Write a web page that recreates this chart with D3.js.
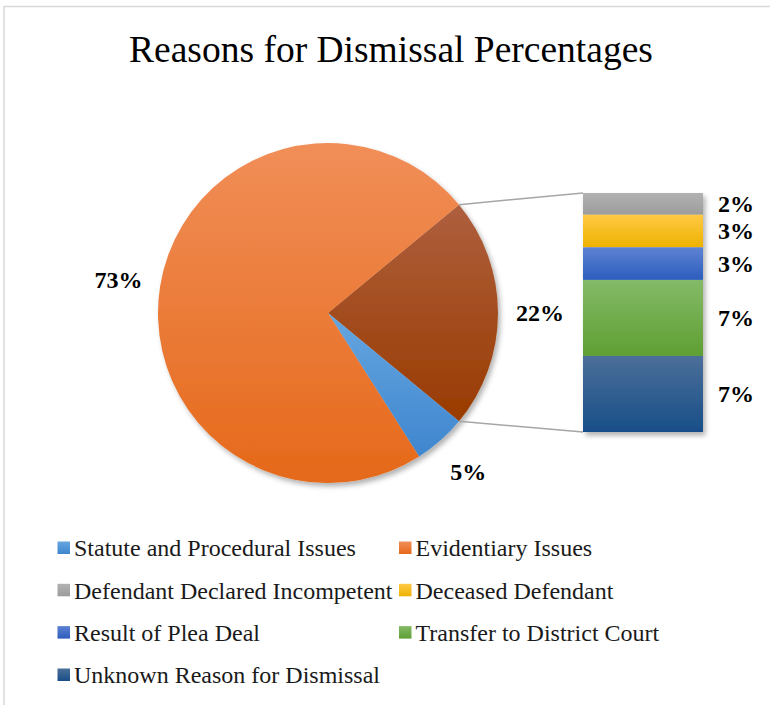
<!DOCTYPE html>
<html>
<head>
<meta charset="utf-8">
<script src="https://cdn.jsdelivr.net/npm/d3@7"></script>
<style>
  html, body { margin: 0; padding: 0; background: #ffffff; }
  svg { display: block; font-family: "Liberation Serif", "Times New Roman", serif; }
</style>
</head>
<body>
<svg id="chart" width="770" height="705"></svg>
<script>
// Pie slices (percent), the "other" slice is broken out into the bar
const pieNames  = ["Other", "Statute and Procedural Issues", "Evidentiary Issues"];
const pieValues = [22, 5, 73];

// Breakdown of the "other" slice, top to bottom of the bar
const barNames  = ["Defendant Declared Incompetent", "Deceased Defendant", "Result of Plea Deal",
                   "Transfer to District Court", "Unknown Reason for Dismissal"];
const barValues = [2, 3, 3, 7, 7];

// Legend order
const legendNames = ["Statute and Procedural Issues", "Evidentiary Issues",
                     "Defendant Declared Incompetent", "Deceased Defendant",
                     "Result of Plea Deal", "Transfer to District Court",
                     "Unknown Reason for Dismissal"];

// Fill gradients: [top colour, bottom colour]
const fills = {
  "Other":                          ["#ae5f3e", "#993b00"],
  "Statute and Procedural Issues":  ["#66a6df", "#3f86cf"],
  "Evidentiary Issues":             ["#f18e58", "#e5691a"],
  "Defendant Declared Incompetent": ["#b2b2b2", "#9c9c9c"],
  "Deceased Defendant":             ["#ffc945", "#eeb200"],
  "Result of Plea Deal":            ["#5d82d3", "#2c5dbd"],
  "Transfer to District Court":     ["#84ba68", "#5f9f33"],
  "Unknown Reason for Dismissal":   ["#4b6f99", "#184e88"]
};

const svg = d3.select("#chart");
const defs = svg.append("defs");
const gid = name => "g-" + name.replace(/[^A-Za-z]/g, "");

Object.entries(fills).forEach(([name, [c0, c1]]) => {
  const g = defs.append("linearGradient").attr("id", gid(name))
    .attr("x1", 0).attr("y1", 0).attr("x2", 0).attr("y2", 1);
  g.append("stop").attr("offset", "0%").attr("stop-color", c0);
  g.append("stop").attr("offset", "100%").attr("stop-color", c1);
});

const shadow = defs.append("filter").attr("id", "shadow")
  .attr("x", "-10%").attr("y", "-10%").attr("width", "125%").attr("height", "125%");
shadow.append("feDropShadow").attr("dx", 2.5).attr("dy", 3.5)
  .attr("stdDeviation", 2.5).attr("flood-color", "#000").attr("flood-opacity", 0.3);

// Chart area border
svg.append("rect").attr("x", 4).attr("y", 6.5).attr("width", 800).attr("height", 720)
  .attr("fill", "none").attr("stroke", "#d9d9d9").attr("stroke-width", 1.5);

// Title
svg.append("text").attr("x", 391).attr("y", 62).attr("text-anchor", "middle")
  .attr("font-size", 37.5).attr("fill", "#000")
  .text("Reasons for Dismissal Percentages");

// ---- Pie ----
const cx = 328, cy = 313, r = 170;
const total = d3.sum(pieValues);
const otherSpan = pieValues[0] / total * 2 * Math.PI;
const start = Math.PI / 2 - otherSpan / 2;

const pie = d3.pie().sort(null).startAngle(start).endAngle(start + 2 * Math.PI);
const arcs = pie(pieValues);
const arc = d3.arc().innerRadius(0).outerRadius(r);
const labelArc = d3.arc().innerRadius(r + 42).outerRadius(r + 42);

const pieG = svg.append("g").attr("transform", `translate(${cx},${cy})`);
pieG.append("g").attr("filter", "url(#shadow)")
  .selectAll("path").data(arcs).join("path")
  .attr("d", arc)
  .attr("fill", (d, i) => `url(#${gid(pieNames[i])})`);

pieG.selectAll("text").data(arcs).join("text")
  .attr("transform", d => `translate(${labelArc.centroid(d)})`)
  .attr("text-anchor", "middle").attr("dy", "0.35em")
  .attr("font-size", 24).attr("font-weight", "bold").attr("fill", "#000")
  .text(d => d.data + "%");

// ---- Bar ----
const barX = 583, barW = 120;
const y = d3.scaleLinear().domain([0, d3.sum(barValues)]).range([193, 432]);
const stacked = [];
barValues.reduce((acc, v, i) => { stacked.push({ name: barNames[i], v, y0: acc, y1: acc + v }); return acc + v; }, 0);

// Connector lines from the "other" slice to the bar
const o = arcs[0];
const pt = a => [cx + r * Math.sin(a), cy - r * Math.cos(a)];
const [ax0, ay0] = pt(o.startAngle), [ax1, ay1] = pt(o.endAngle);
svg.append("line").attr("x1", ax0).attr("y1", ay0).attr("x2", barX).attr("y2", y(0))
  .attr("stroke", "#a6a6a6").attr("stroke-width", 1.5);
svg.append("line").attr("x1", ax1).attr("y1", ay1).attr("x2", barX).attr("y2", y(d3.sum(barValues)))
  .attr("stroke", "#a6a6a6").attr("stroke-width", 1.5);

svg.append("g").attr("filter", "url(#shadow)")
  .selectAll("rect").data(stacked).join("rect")
  .attr("x", barX).attr("width", barW)
  .attr("y", d => y(d.y0)).attr("height", d => y(d.y1) - y(d.y0))
  .attr("fill", d => `url(#${gid(d.name)})`);

svg.append("g").selectAll("text").data(stacked).join("text")
  .attr("x", 718).attr("y", d => (y(d.y0) + y(d.y1)) / 2).attr("dy", "0.35em")
  .attr("font-size", 24).attr("font-weight", "bold").attr("fill", "#000")
  .text(d => d.v + "%");

// ---- Legend ----
const colX = [57.5, 399], rowY = [548, 590.3, 632.6, 675];
const leg = svg.append("g").selectAll("g").data(legendNames).join("g")
  .attr("transform", (d, i) => `translate(${colX[i % 2]},${rowY[Math.floor(i / 2)]})`);
leg.append("rect").attr("x", 0).attr("y", -6.5).attr("width", 12.5).attr("height", 12.5)
  .attr("fill", d => `url(#${gid(d)})`);
leg.append("text").attr("x", 16.5).attr("dy", "0.35em")
  .attr("font-size", 24).attr("fill", "#1a1a1a").text(d => d);
</script>
</body>
</html>
